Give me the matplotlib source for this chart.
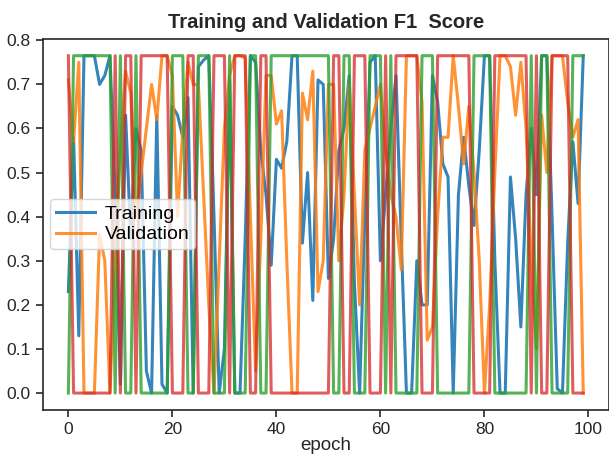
import numpy as np
import matplotlib
matplotlib.use('Agg')
import matplotlib.pyplot as plt

# values
epochs = list(range(100))
top = 0.765

train_f1 = [0.23, 0.58, 0.13, 0.765, 0.765, 0.765, 0.70, 0.72, 0.765, 0.45,
            0.02, 0.63, 0.35, 0.60, 0.55, 0.05, 0.00, 0.63, 0.02, 0.00,
            0.65, 0.63, 0.58, 0.67, 0.00, 0.74, 0.755, 0.765, 0.40, 0.00,
            0.10, 0.71, 0.00, 0.00, 0.35, 0.765, 0.75, 0.55, 0.45, 0.29,
            0.53, 0.51, 0.57, 0.765, 0.765, 0.34, 0.50, 0.21, 0.71, 0.70,
            0.26, 0.35, 0.55, 0.60, 0.72, 0.25, 0.00, 0.40, 0.75, 0.765,
            0.30, 0.45, 0.60, 0.72, 0.35, 0.00, 0.00, 0.30, 0.20, 0.20,
            0.72, 0.66, 0.52, 0.49, 0.00, 0.45, 0.58, 0.47, 0.38, 0.55,
            0.765, 0.765, 0.30, 0.00, 0.00, 0.49, 0.35, 0.15, 0.45, 0.60,
            0.45, 0.765, 0.765, 0.40, 0.01, 0.00, 0.34, 0.57, 0.43, 0.765]

val_f1 = [0.71, 0.57, 0.75, 0.00, 0.00, 0.00, 0.36, 0.30, 0.00, 0.30,
          0.55, 0.73, 0.68, 0.40, 0.50, 0.60, 0.70, 0.62, 0.765, 0.765,
          0.72, 0.40, 0.60, 0.75, 0.70, 0.70, 0.45, 0.20, 0.00, 0.30,
          0.60, 0.72, 0.765, 0.765, 0.76, 0.40, 0.05, 0.35, 0.72, 0.72,
          0.61, 0.64, 0.30, 0.00, 0.00, 0.68, 0.62, 0.73, 0.23, 0.30,
          0.70, 0.70, 0.30, 0.45, 0.70, 0.45, 0.20, 0.55, 0.60, 0.65,
          0.70, 0.55, 0.45, 0.40, 0.28, 0.765, 0.765, 0.765, 0.66, 0.12,
          0.15, 0.40, 0.58, 0.58, 0.765, 0.65, 0.52, 0.65, 0.50, 0.30,
          0.00, 0.20, 0.50, 0.765, 0.765, 0.74, 0.63, 0.75, 0.60, 0.30,
          0.10, 0.63, 0.50, 0.765, 0.765, 0.765, 0.66, 0.58, 0.62, 0.00]

# on/off pattern of the two unlabelled lines (green high = 1, red is the opposite)
green_on = [0, 1, 1, 1, 1, 1, 1, 1, 1, 0,
            1, 0, 0, 1, 0, 0, 0, 0, 0, 0,
            1, 1, 1, 0, 0, 1, 1, 1, 0, 0,
            0, 1, 0, 0, 0, 1, 1, 0, 0, 1,
            1, 1, 1, 1, 1, 1, 1, 1, 1, 1,
            1, 0, 0, 1, 1, 0, 0, 0, 1, 1,
            1, 0, 1, 0, 0, 0, 0, 0, 1, 1,
            1, 0, 0, 0, 0, 0, 0, 0, 1, 1,
            1, 1, 0, 0, 0, 0, 0, 0, 0, 1,
            0, 1, 1, 0, 0, 0, 0, 1, 1, 1]

green_f1 = [top * g for g in green_on]
red_f1 = [top * (1 - g) for g in green_on]

plt.rcParams['font.family'] = ['Liberation Sans', 'DejaVu Sans']
plt.rcParams['xtick.direction'] = 'out'
plt.rcParams['ytick.direction'] = 'out'
plt.rcParams['xtick.color'] = '#262626'
plt.rcParams['ytick.color'] = '#262626'
plt.rcParams['axes.edgecolor'] = '#262626'

fig, ax = plt.subplots(figsize=(6.09, 4.57), dpi=100)
fig.subplots_adjust(left=0.07, right=1.0, top=0.915, bottom=0.103)

ax.plot(epochs, train_f1, color='#1f77b4', lw=2.2, alpha=0.9, label='Training')
ax.plot(epochs, val_f1, color='#ff7f0e', lw=2.2, alpha=0.85, label='Validation')
ax.plot(epochs, green_f1, color='#2ca02c', lw=2.2, alpha=0.8)
ax.plot(epochs, red_f1, color='#d62728', lw=2.2, alpha=0.75)

ax.set_title('Training and Validation F1  Score', fontsize=14.5, fontweight='bold',
             color='#262626', pad=8)
ax.set_xlabel('epoch', fontsize=13.5, color='#262626', labelpad=0)
ax.set_yticks(np.arange(0, 0.81, 0.1))
ax.tick_params(labelsize=12.5, length=5, width=1.2)
for s in ax.spines.values():
    s.set_linewidth(1.2)
ax.legend(loc='center left', fontsize=14, handlelength=2, borderpad=0.3,
          labelspacing=0.15, handletextpad=0.5, borderaxespad=0.4)

fig.savefig('out.png', dpi=100)
